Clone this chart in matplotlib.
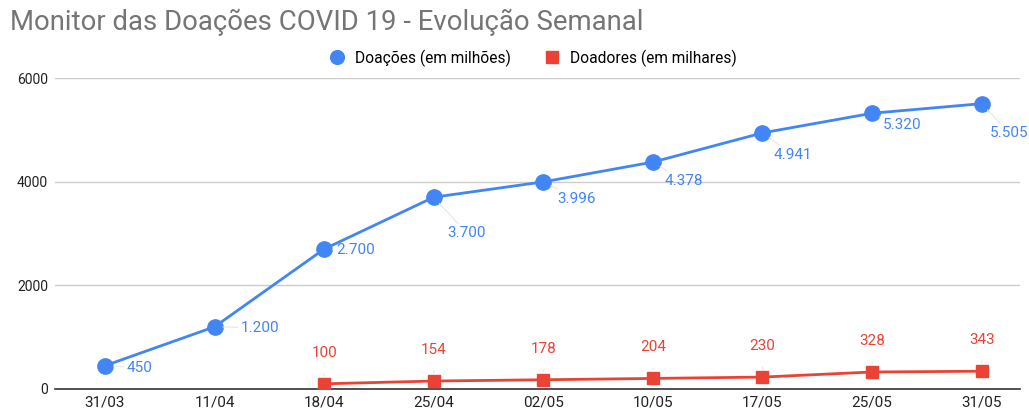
import matplotlib.pyplot as plt
import numpy as np

plt.rcParams['font.family'] = ['Roboto', 'DejaVu Sans']

datas = ["31/03", "11/04", "18/04", "25/04", "02/05", "10/05", "17/05", "25/05", "31/05"]
doacoes = [450, 1200, 2700, 3700, 3996, 4378, 4941, 5320, 5505]
doacoes_txt = ["450", "1.200", "2.700", "3.700", "3.996", "4.378", "4.941", "5.320", "5.505"]
doadores = [None, None, 100, 154, 178, 204, 230, 328, 343]
doadores_txt = ["", "", "100", "154", "178", "204", "230", "328", "343"]

azul = '#4285F4'
vermelho = '#EA4335'

fig = plt.figure(figsize=(10.29, 4.12), dpi=100)
ax = fig.add_axes([55 / 1029, 1 - 389 / 412, 965 / 1029, 311 / 412])

x = np.arange(len(datas))
ax.plot(x, doacoes, color=azul, linewidth=2, marker='o', markersize=11,
        label='Doações (em milhões)', zorder=3)

xr = [i for i, v in enumerate(doadores) if v is not None]
yr = [doadores[i] for i in xr]
ax.plot(xr, yr, color=vermelho, linewidth=2, marker='s', markersize=9,
        label='Doadores (em milhares)', zorder=3)

# offsets of blue labels in pixels (dx, dy)
offs = [(22, -2), (26, -1), (12, -1), (14, -36), (14, -17), (12, -19), (11, -22), (11, -12), (8, -29)]
for i, (v, t) in enumerate(zip(doacoes, doacoes_txt)):
    dx, dy = offs[i]
    ax.annotate(t, (i, v), xytext=(dx, dy), textcoords='offset pixels',
                color=azul, fontsize=11, ha='left', va='center',
                arrowprops=dict(arrowstyle='-', color='#e6e6e6', lw=0.8,
                                shrinkA=0, shrinkB=6))

for i in xr:
    ax.annotate(doadores_txt[i], (i, doadores[i]), xytext=(0, 31),
                textcoords='offset pixels', color=vermelho, fontsize=11,
                ha='center', va='center',
                arrowprops=dict(arrowstyle='-', color='#e6e6e6', lw=0.8,
                                shrinkA=8, shrinkB=6))

ax.set_xlim(-0.456, 8.35)
ax.set_ylim(0, 6000)
ax.set_yticks([0, 2000, 4000, 6000])
ax.set_xticks(x)
ax.set_xticklabels(datas, fontsize=11, color='#222222')
ax.tick_params(axis='y', labelsize=10, colors='#222222', length=0, pad=5)
ax.tick_params(axis='x', length=0, pad=5)
ax.grid(axis='y', color='#cccccc', linewidth=1)
ax.set_axisbelow(True)
for s in ['top', 'right', 'left']:
    ax.spines[s].set_visible(False)
ax.spines['bottom'].set_color('#333333')
ax.spines['bottom'].set_linewidth(1.2)

fig.text(10 / 1029, 1 - 22 / 412, "Monitor das Doações COVID 19 - Evolução Semanal",
         fontsize=19.8, color='#757575', ha='left', va='center')

fig.legend(loc='center', bbox_to_anchor=(533 / 1029, 1 - 58 / 412), ncol=2,
           frameon=False, fontsize=11.2, handlelength=1, columnspacing=2.2,
           handletextpad=0.6, markerscale=0.9)
# legend shows only markers
for h in fig.legends[0].legend_handles:
    h.set_linestyle('none')

fig.savefig('out.png', dpi=100)
